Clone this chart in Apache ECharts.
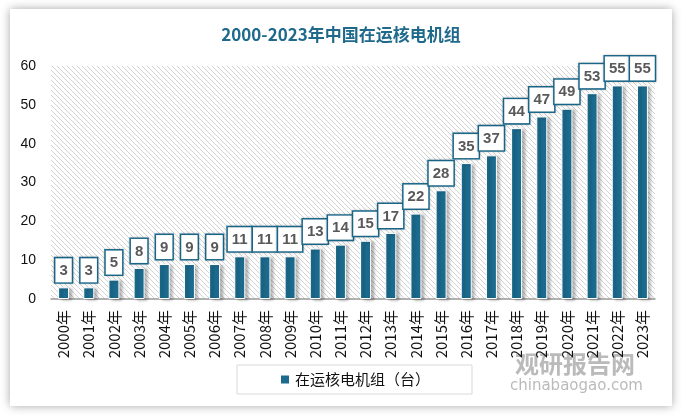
<!DOCTYPE html>
<html><head><meta charset="utf-8">
<script src="https://cdn.jsdelivr.net/npm/echarts@6/dist/echarts.min.js"></script>
<style>
html,body{margin:0;padding:0;background:#fff;width:681px;height:418px;overflow:hidden;}
#card{position:absolute;left:10px;top:9px;width:662px;height:397px;background:#fff;box-shadow:0 0 9px rgba(0,0,0,0.35);}
#chart{width:662px;height:397px;}
</style></head>
<body><div id="card"><div id="chart"></div></div>
<script>
const categories = ['2000年','2001年','2002年','2003年','2004年','2005年','2006年','2007年','2008年','2009年','2010年','2011年','2012年','2013年','2014年','2015年','2016年','2017年','2018年','2019年','2020年','2021年','2022年','2023年'];
const units = [3,3,5,8,9,9,9,11,11,11,13,14,15,17,22,28,35,37,44,47,49,53,55,55];
const seriesName = '在运核电机组（台）';
const titleText = '2000-2023年中国在运核电机组';

const S = 5;
const tile = document.createElement('canvas');
tile.width = S; tile.height = S;
const c = tile.getContext('2d');
c.fillStyle = '#ffffff'; c.fillRect(0,0,S,S);
c.strokeStyle = '#d2d2d2'; c.lineWidth = 1;
c.beginPath();
c.moveTo(-1,-1); c.lineTo(S+1,S+1);
c.moveTo(-1,S-1); c.lineTo(1,S+1);
c.moveTo(S-1,-1); c.lineTo(S+1,1);
c.stroke();

const chart = echarts.init(document.getElementById('chart'));
chart.setOption({
  animation:false,
  title:{text:titleText,left:'center',top:12,textStyle:{fontFamily:'Noto Sans CJK SC',fontSize:17,fontWeight:'bold',color:'#1f6a8c'}},
  grid:{left:41,right:17,top:57,bottom:107,show:true,borderWidth:0,backgroundColor:{image:tile,repeat:'repeat'}},
  legend:{left:227,top:356,width:150,padding:[7,42,7,42],borderColor:'#d9d9d9',borderWidth:1,itemWidth:10,itemHeight:10,itemGap:5,
    textStyle:{fontFamily:'Noto Sans CJK SC',fontSize:15,color:'#111'},data:[{name:seriesName,icon:'rect'}]},
  xAxis:{type:'category',data:categories,
    axisLine:{lineStyle:{color:'#999',width:1.5}},axisTick:{show:false},
    axisLabel:{rotate:90,interval:0,fontSize:15,color:'#111',fontFamily:'Noto Sans CJK SC',margin:11}},
  yAxis:{type:'value',min:0,max:60,interval:10,splitLine:{show:false},axisLine:{show:false},axisTick:{show:false},
    axisLabel:{fontSize:14,color:'#111',fontFamily:'Liberation Sans',margin:15}},
  series:[{name:seriesName,type:'bar',data:units,barWidth:11,
    itemStyle:{color:'#1c6b8e',borderColor:'#fff',borderWidth:1,shadowColor:'rgba(0,0,0,0.3)',shadowBlur:3,shadowOffsetX:3,shadowOffsetY:1},
    label:{show:true,position:'top',distance:5,backgroundColor:'#fff',borderColor:'#1c6b8e',borderWidth:1.5,
      padding:[5,4,4,4],fontSize:15,lineHeight:15,fontWeight:'bold',color:'#595959',fontFamily:'Liberation Sans',
      shadowColor:'rgba(0,0,0,0.2)',shadowBlur:3}}],
  graphic:[
    {type:'text',left:505,top:343,style:{text:'观研报告网',fontSize:24,fontWeight:'bold',fill:'rgba(140,140,140,0.6)',fontFamily:'Noto Sans CJK SC'}},
    {type:'text',left:500,top:370,style:{text:'chinabaogao.com',fontSize:15,fill:'rgba(140,140,140,0.6)',fontFamily:'DejaVu Sans'}}
  ]
});
</script></body></html>
